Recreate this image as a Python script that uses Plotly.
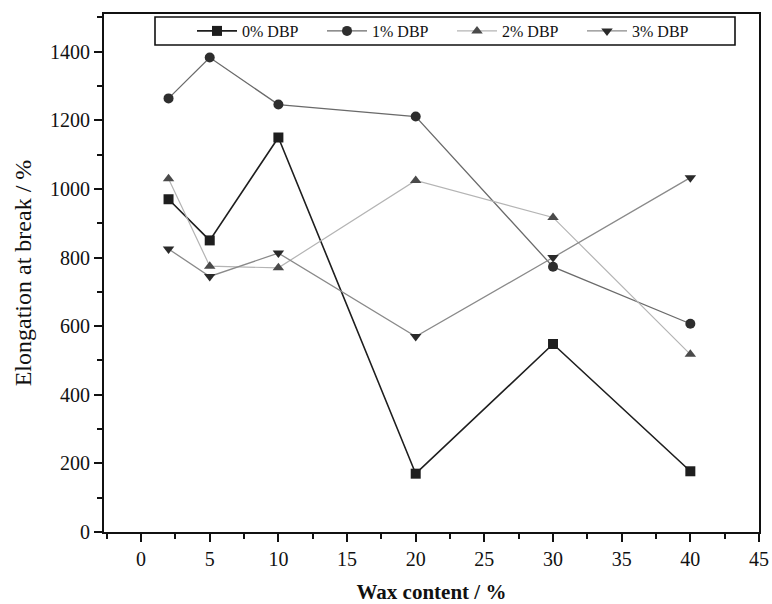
import plotly.graph_objects as go

wax = [2, 5, 10, 20, 30, 40]
dbp0 = [970, 850, 1150, 170, 548, 177]
dbp1 = [1264, 1383, 1246, 1211, 773, 607]
dbp2 = [1030, 775, 770, 1025, 917, 518]
dbp3 = [825, 745, 813, 570, 800, 1033]
names = ["0% DBP", "1% DBP", "2% DBP", "3% DBP"]

series = [
    (dbp0, "square", "#1e1e1e", "#1e1e1e", 1.6),
    (dbp1, "circle", "#2e2e2e", "#6a6a6a", 1.3),
    (dbp2, "triangle-up", "#4a4a4a", "#b4b4b4", 1.2),
    (dbp3, "triangle-down", "#2a2a2a", "#8a8a8a", 1.3),
]

fig = go.Figure()
for (vals, sym, mcol, lcol, lw), nm in zip(series, names):
    fig.add_trace(go.Scatter(
        x=wax, y=vals, name=nm, mode="lines+markers",
        line=dict(color=lcol, width=lw),
        marker=dict(symbol=sym, size=10, color=mcol),
    ))

W, H = 772, 604
L, R, T, B = 104, 13, 14, 72
pw, ph = W - L - R, H - T - B

def px(x):
    return (x - L) / pw

def py(y):
    return 1 - (y - T) / ph

font = "Liberation Serif, Times New Roman, serif"
fig.add_shape(type="rect", xref="paper", yref="paper",
              x0=px(155), x1=px(735), y0=py(45), y1=py(17),
              line=dict(color="#111", width=1.6), fillcolor="rgba(0,0,0,0)")

fig.update_layout(
    width=W, height=H,
    margin=dict(l=L, r=R, t=T, b=B),
    paper_bgcolor="white", plot_bgcolor="white",
    font=dict(family=font, size=16, color="#111"),
    showlegend=True,
    legend=dict(
        orientation="h", x=px(452), xanchor="center", y=py(31), yanchor="middle",
        borderwidth=0, bgcolor="rgba(0,0,0,0)",
        font=dict(family=font, size=16, color="#111"),
        itemwidth=40, entrywidth=75, entrywidthmode="pixels",
        tracegroupgap=0,
    ),
)
fig.update_xaxes(
    range=[-2.7, 45], tickmode="linear", tick0=0, dtick=5,
    ticks="outside", ticklen=8, tickwidth=1.5, tickcolor="#111",
    minor=dict(dtick=2.5, tick0=0, ticks="outside", ticklen=5, tickwidth=1.5, tickcolor="#111"),
    showline=True, linecolor="#111", linewidth=1.8, mirror=True,
    showgrid=False, zeroline=False, automargin=False,
    title=dict(text="<b>Wax content / %</b>", font=dict(family=font, size=21), standoff=28),
    tickfont=dict(family=font, size=20),
)
fig.update_yaxes(
    range=[0, 1510], tickmode="linear", tick0=0, dtick=200,
    ticks="outside", ticklen=8, tickwidth=1.5, tickcolor="#111",
    minor=dict(dtick=100, tick0=0, ticks="outside", ticklen=5, tickwidth=1.5, tickcolor="#111"),
    showline=True, linecolor="#111", linewidth=1.8, mirror=True,
    showgrid=False, zeroline=False, automargin=False,
    title=dict(text="Elongation at break / %", font=dict(family=font, size=24), standoff=12),
    tickfont=dict(family=font, size=20),
)
fig.write_html("out.html")
